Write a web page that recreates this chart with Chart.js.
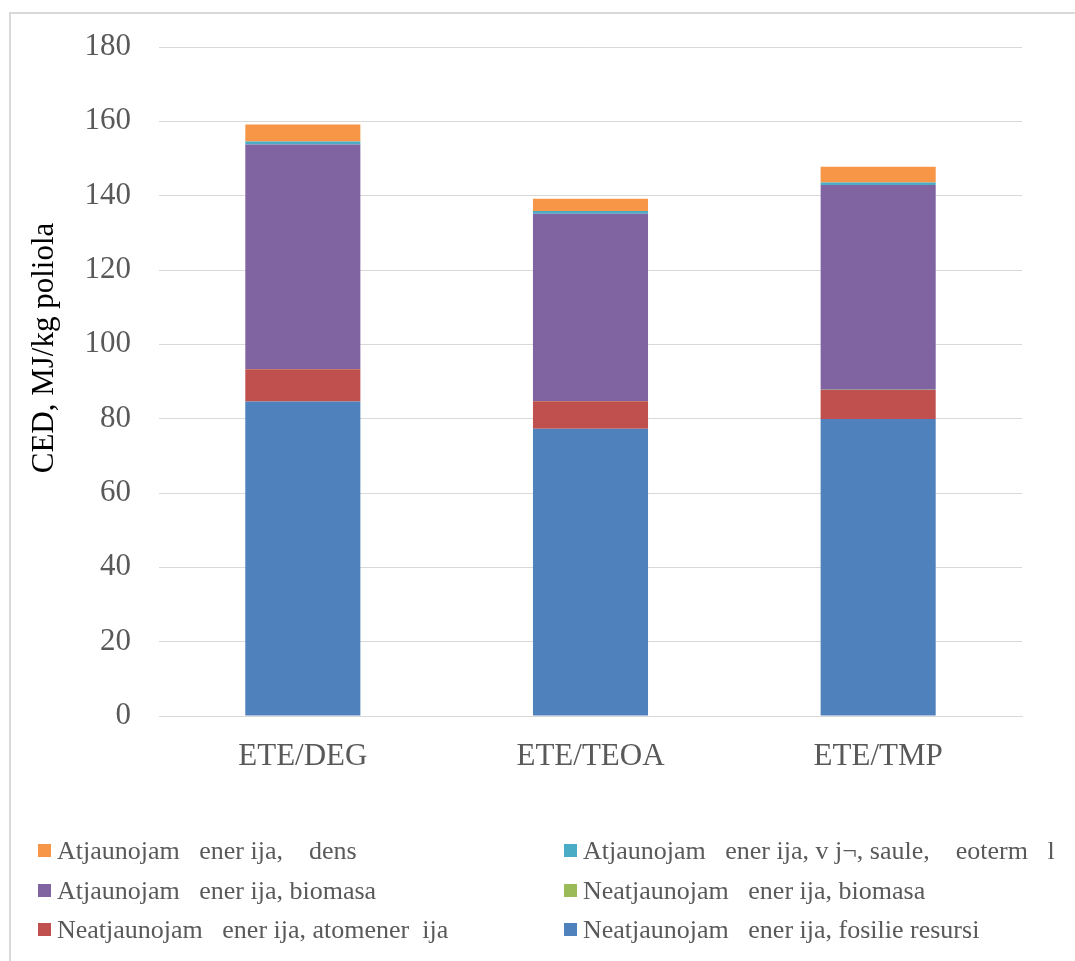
<!DOCTYPE html>
<html>
<head>
<meta charset="utf-8">
<script src="https://cdn.jsdelivr.net/npm/chart.js@4.4.1/dist/chart.umd.min.js"></script>
<style>
  html, body { margin: 0; padding: 0; background: #fff; }
  body { width: 1075px; height: 961px; position: relative; overflow: hidden; }
  #frame { position: absolute; left: 9px; top: 12px; width: 1100px; height: 1000px;
           border: 2px solid #d9d9d9; box-sizing: border-box; }
  #c { position: absolute; left: 0; top: 0; }
  #legend { position: absolute; left: 0; top: 0; font-family: 'Liberation Serif', 'Times New Roman', serif;
            font-size: 26px; color: #595959; }
  .item { position: absolute; white-space: pre; line-height: 30px; height: 30px; }
  .sw { position: absolute; width: 13px; height: 13px; top: 8px; left: 0; }
  .txt { position: absolute; left: 19px; top: 0; }
</style>
</head>
<body>
<div id="frame"></div>
<canvas id="c" width="1075" height="961"></canvas>
<div id="legend"></div>
<script>
// Categories and stacked series (MJ/kg poliola)
const categories = ['ETE/DEG', 'ETE/TEOA', 'ETE/TMP'];
const fosilieResursi = [84.6, 77.3, 79.9];
const atomenergija = [8.7, 7.4, 7.8];
const neatjBiomasa = [0.05, 0.05, 0.05];
const atjBiomasa = [60.4, 50.4, 55.1];
const vejsSauleGeo = [0.8, 0.7, 0.7];
const udens = [4.6, 3.3, 4.2];

const yTicks = [0, 20, 40, 60, 80, 100, 120, 140, 160, 180];

const labelFosilie = 'Neatjaunojam   ener ija, fosilie resursi';
const labelAtom = 'Neatjaunojam   ener ija, atomener  ija';
const labelNeatBio = 'Neatjaunojam   ener ija, biomasa';
const labelAtjBio = 'Atjaunojam   ener ija, biomasa';
const labelVejs = 'Atjaunojam   ener ija, v j\u00AC, saule,    eoterm   l';
const labelUdens = 'Atjaunojam   ener ija,    dens';

const serif = "'Liberation Serif', 'Times New Roman', serif";

const datasets = [
  { label: labelFosilie, data: fosilieResursi, backgroundColor: '#4F81BD' },
  { label: labelAtom, data: atomenergija, backgroundColor: '#C0504D' },
  { label: labelNeatBio, data: neatjBiomasa, backgroundColor: '#9BBB59' },
  { label: labelAtjBio, data: atjBiomasa, backgroundColor: '#8064A2' },
  { label: labelVejs, data: vejsSauleGeo, backgroundColor: '#4BACC6' },
  { label: labelUdens, data: udens, backgroundColor: '#F79646' }
];

// Rotated y-axis title
const yTitlePlugin = {
  id: 'yTitle',
  afterDraw(chart) {
    const ctx = chart.ctx;
    ctx.save();
    ctx.translate(45, 348);
    ctx.rotate(-Math.PI / 2);
    ctx.font = '31px ' + serif;
    ctx.fillStyle = '#000';
    ctx.textAlign = 'center';
    ctx.textBaseline = 'middle';
    ctx.fillText('CED, MJ/kg poliola', 0, 0);
    ctx.restore();
  }
};

const chart = new Chart(document.getElementById('c'), {
  type: 'bar',
  data: {
    labels: categories,
    datasets: datasets.map(d => Object.assign({ borderWidth: 0, barPercentage: 0.4, categoryPercentage: 1 }, d))
  },
  options: {
    responsive: false,
    animation: false,
    layout: { padding: { top: 47, right: 53, bottom: 165, left: 0 } },
    plugins: { legend: { display: false }, tooltip: { enabled: false } },
    scales: {
      x: {
        stacked: true,
        grid: { display: false, drawTicks: false },
        border: { display: true, color: '#d9d9d9', width: 1 },
        ticks: { color: '#595959', font: { family: serif, size: 31 }, padding: 22 },
        afterFit(scale) { scale.height = 80; }
      },
      y: {
        stacked: true,
        min: 0,
        max: 180,
        afterBuildTicks(scale) { scale.ticks = yTicks.map(v => ({ value: v })); },
        grid: { color: '#d9d9d9', lineWidth: 1, drawTicks: false },
        border: { display: false },
        ticks: { color: '#595959', font: { family: serif, size: 31 }, padding: 28 },
        afterFit(scale) { scale.width = 159; }
      }
    }
  },
  plugins: [yTitlePlugin]
});

// Two-column legend, filled row by row from the top of the stack down
const legendOrder = [5, 4, 3, 2, 1, 0];
const legendEl = document.getElementById('legend');
const colX = [38, 564];
const rowY = [836, 876, 915];
legendOrder.forEach((di, i) => {
  const ds = datasets[di];
  const item = document.createElement('div');
  item.className = 'item';
  item.style.left = colX[i % 2] + 'px';
  item.style.top = rowY[Math.floor(i / 2)] + 'px';
  const sw = document.createElement('div');
  sw.className = 'sw';
  sw.style.background = ds.backgroundColor;
  const t = document.createElement('span');
  t.className = 'txt';
  t.textContent = ds.label;
  item.appendChild(sw);
  item.appendChild(t);
  legendEl.appendChild(item);
});
</script>
</body>
</html>
